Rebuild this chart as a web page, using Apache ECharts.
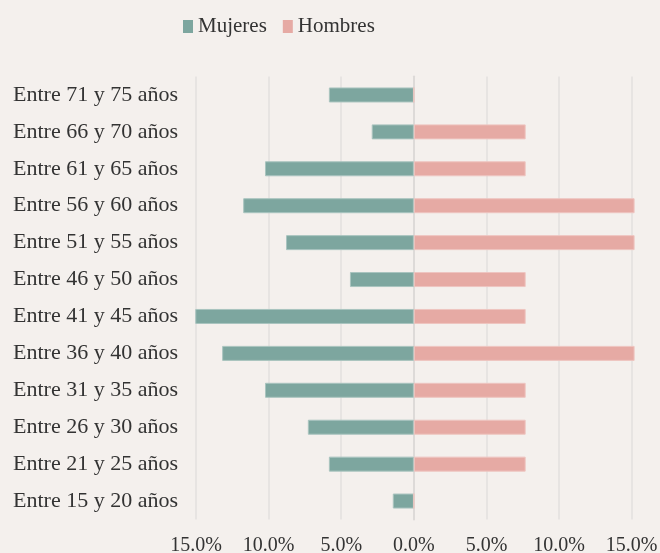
<!DOCTYPE html>
<html>
<head>
    <meta charset="utf-8">
    <title>Pirámide de edades</title>
    <script src="https://cdn.jsdelivr.net/npm/echarts@6/dist/echarts.min.js"></script>
    <style type="text/css">
        body{
            margin: 0;
            background: #f4f0ed;
        }
    </style>
</head>
<body>
<div id="main" style="width: 660px;height:553px;"></div>
<script>
    // grupos de edad, de abajo hacia arriba
    var edades = ["Entre 15 y 20 años","Entre 21 y 25 años","Entre 26 y 30 años","Entre 31 y 35 años",
        "Entre 36 y 40 años","Entre 41 y 45 años","Entre 46 y 50 años","Entre 51 y 55 años",
        "Entre 56 y 60 años","Entre 61 y 65 años","Entre 66 y 70 años","Entre 71 y 75 años"];
    // porcentajes (mujeres hacia la izquierda)
    var mujeres = [1.45, 5.85, 7.3, 10.25, 13.2, 15.05, 4.4, 8.8, 11.75, 10.25, 2.9, 5.85];
    var hombres = [0, 7.7, 7.7, 7.7, 15.2, 7.7, 7.7, 15.2, 15.2, 7.7, 7.7, 0];
    var ticks = [-15, -10, -5, 0, 5, 10, 15];

    var fuente = '"Liberation Serif", serif';
    var myChart = echarts.init(document.getElementById('main'));
    var option = {
        backgroundColor: '#f4f0ed',
        textStyle: { fontFamily: fuente },
        legend: {
            data: ['Mujeres', 'Hombres'],
            top: 16,
            left: 183,
            padding: 0,
            itemWidth: 10,
            itemHeight: 13,
            itemGap: 16,
            icon: 'rect',
            itemStyle: { borderWidth: 0 },
            textStyle: { fontFamily: fuente, fontSize: 21, color: '#333' }
        },
        grid: {
            left: 196,
            right: 28.3,
            top: 76.5,
            bottom: 33.5,
            containLabel: false,
            outerBoundsMode: 'none'
        },
        xAxis: {
            type: 'value',
            min: ticks[0],
            max: ticks[ticks.length - 1],
            interval: 5,
            axisLine: { show: false },
            axisTick: { show: false },
            splitLine: { lineStyle: { color: '#e3e0de', width: 1.5 } },
            axisLabel: {
                fontFamily: fuente,
                fontSize: 20,
                color: '#333',
                margin: 16,
                formatter: function (v) { return Math.abs(v).toFixed(1) + '%'; }
            }
        },
        yAxis: {
            type: 'category',
            data: edades,
            axisLine: { show: true, lineStyle: { color: '#dddad8', width: 2 } },
            axisTick: { show: false },
            axisLabel: {
                fontFamily: fuente,
                fontSize: 22,
                color: '#333',
                margin: 18,
                padding: [3, 0, 0, 0]
            }
        },
        series: [{
            name: 'Mujeres',
            type: 'bar',
            barWidth: 15,
            barGap: '-100%',
            clip: false,
            itemStyle: { color: '#7da69f', borderColor: '#a9c4bf', borderWidth: 1 },
            data: mujeres.map(function (v) { return -v; })
        }, {
            name: 'Hombres',
            type: 'bar',
            barWidth: 15,
            barGap: '-100%',
            clip: false,
            itemStyle: { color: '#e6aaa4', borderColor: '#eec5c0', borderWidth: 1 },
            data: hombres
        }]
    };
    myChart.setOption(option);
</script>
</body>
</html>
